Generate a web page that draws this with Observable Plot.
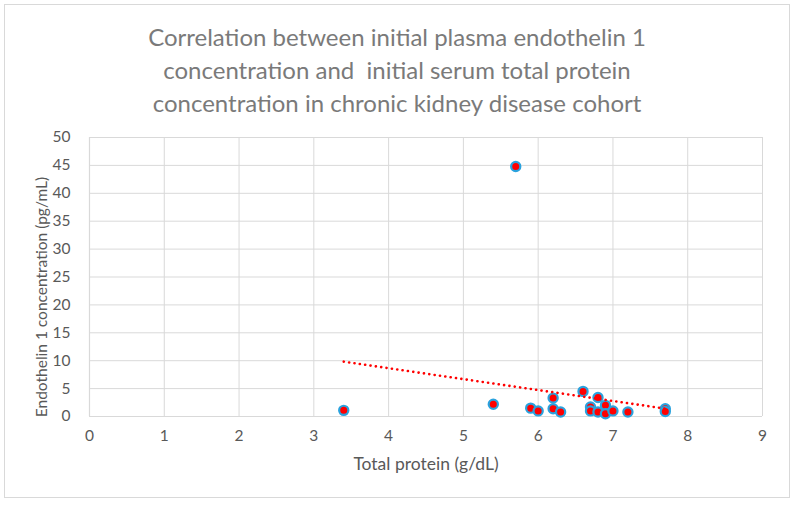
<!DOCTYPE html>
<html>
<head>
<meta charset="utf-8">
<script src="https://cdn.jsdelivr.net/npm/d3@7"></script>
<script src="https://cdn.jsdelivr.net/npm/@observablehq/plot@0.6"></script>
<style>
  html, body { margin: 0; padding: 0; background: #fff; }
  #chart { position: relative; width: 794px; height: 505px; overflow: hidden; font-family: Lato, "Open Sans", sans-serif; }
  #frame { position: absolute; left: 4px; top: 4px; width: 784px; height: 492px; border: 1px solid #d9d9d9; }
  #title { position: absolute; left: 0; top: 20px; width: 794px; text-align: center; color: #7a7a7a; font-size: 24px; line-height: 33px; }
  #plot { position: absolute; left: 0; top: 127px; }
</style>
</head>
<body>
<div id="chart">
  <div id="frame"></div>
  <div id="title">Correlation between initial plasma endothelin 1<br>concentration and&nbsp; initial serum total protein<br>concentration in chronic kidney disease cohort</div>
  <div id="plot"></div>
</div>
<script>
// Initial serum total protein (g/dL) and plasma endothelin 1 (pg/mL), one entry per patient
const totalProtein = [3.4, 5.4, 5.7, 5.9, 6.0, 6.2, 6.2, 6.3, 6.6, 6.7, 6.7, 6.8, 6.8, 6.9, 6.9, 7.0, 7.2, 7.7, 7.7];
const endothelin1  = [1.1, 2.2, 44.8, 1.5, 1.0, 3.3, 1.4, 0.8, 4.5, 1.7, 1.0, 3.4, 0.8, 2.0, 0.5, 1.0, 0.8, 1.4, 0.9];

const xTicks = d3.range(0, 10, 1);
const yTicks = d3.range(0, 55, 5);
const xTitle = "Total protein (g/dL)";
const yTitle = "Endothelin 1 concentration (pg/mL)";

const patients = totalProtein.map((x, i) => ({x, y: endothelin1[i]}));

const grey = "#d9d9d9";
const textGrey = "#595959";

const chart = Plot.plot({
  width: 794,
  height: 378,
  marginLeft: 89,
  marginRight: 32,
  marginTop: 10,
  marginBottom: 89,
  style: {fontFamily: "Lato, 'Open Sans', sans-serif", fontSize: "15px", color: textGrey, background: "transparent", overflow: "visible"},
  x: {domain: [0, 9], ticks: xTicks},
  y: {domain: [0, 50], ticks: yTicks},
  marks: [
    Plot.gridX(xTicks, {stroke: grey, strokeOpacity: 1, strokeWidth: 1}),
    Plot.gridY(yTicks, {stroke: grey, strokeOpacity: 1, strokeWidth: 1}),
    Plot.ruleX([0], {stroke: grey, strokeWidth: 1.2}),
    Plot.ruleY([0], {stroke: grey, strokeWidth: 1.2}),
    Plot.axisX(xTicks, {tickSize: 0, tickPadding: 13, fontSize: 15.5, fill: textGrey, label: null}),
    Plot.axisY(yTicks, {tickSize: 0, tickPadding: 19, fontSize: 15.5, fill: textGrey, label: null}),
    // axis titles
    Plot.text([xTitle], {frameAnchor: "bottom", lineAnchor: "middle", dy: 48, fontSize: 17.5, fill: textGrey}),
    Plot.text([yTitle], {frameAnchor: "left", textAnchor: "middle", lineAnchor: "middle", dx: -47, dy: 20, rotate: -90, fontSize: 15.5, fill: textGrey}),
    Plot.dot(patients, {x: "x", y: "y", r: 4.6, fill: "#ff0000", stroke: "#2aa2de", strokeWidth: 2.2}),
    Plot.linearRegressionY(patients, {x: "x", y: "y", ci: 0, stroke: "#ff0000", strokeWidth: 2.6,
      strokeDasharray: "0.1,5.3", strokeLinecap: "round"})
  ]
});
document.getElementById("plot").appendChild(chart);
</script>
</body>
</html>
